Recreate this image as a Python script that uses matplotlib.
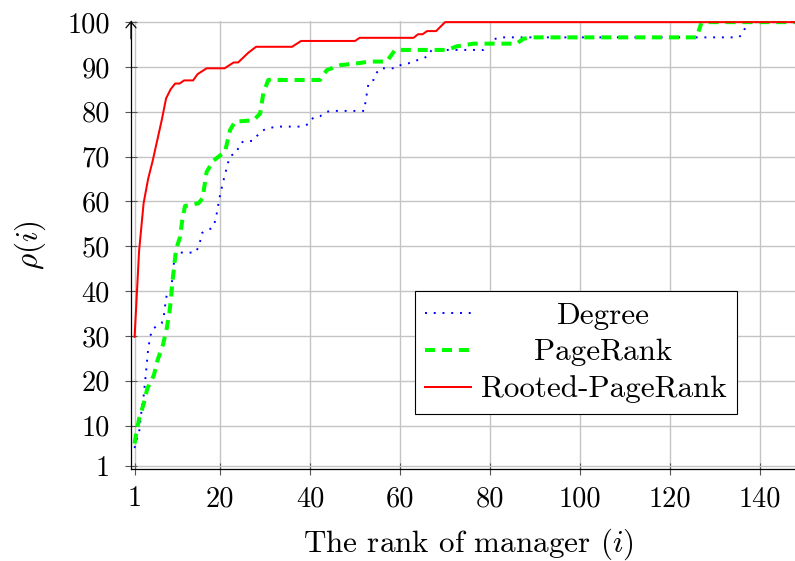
import matplotlib
matplotlib.use("Agg")
import matplotlib.pyplot as plt

plt.rcParams.update({
    'font.family': 'serif',
    'font.serif': ['cmr10', 'DejaVu Serif'],
    'mathtext.fontset': 'cm',
    'axes.unicode_minus': False,
    'axes.formatter.use_mathtext': True,
})

# values
degree_x = [1, 1.5, 2, 2.5, 3, 3.5, 4, 4.5, 5, 6, 7, 7.5, 8, 8.3, 9, 9.3, 9.6, 10,
            11, 14.5, 15.3, 16, 17.3, 18.4, 19, 20, 21, 22, 22.5, 23.5, 24, 24.6,
            25.6, 27.2, 28, 29, 30, 31.6, 33, 38.3, 39.7, 40.7, 42.2, 43.6, 45, 52,
            52.2, 53, 54.1, 54.7, 55.6, 59, 60.4, 61.8, 63.3, 64.8, 66.1, 67, 78.5,
            80.6, 82.2, 135.2, 136.1, 136.7, 137, 148]
degree_y = [5, 7, 8.5, 13, 16.5, 21.5, 27, 30, 31.5, 32.3, 32.8, 34.5, 38.5, 39.5,
            40, 42, 45, 48.5, 48.6, 48.6, 50, 53, 53.6, 54.2, 55.9, 61.5, 65.7,
            69.5, 70.3, 70.7, 71.8, 73.1, 73.5, 73.5, 74.4, 75.5, 76.1, 76.5, 76.7,
            76.7, 77.3, 78.7, 79, 80, 80.2, 80.2, 81.5, 86.5, 87.1, 88.6, 89.7,
            89.7, 90.6, 90.8, 91.3, 91.9, 92.3, 93.8, 93.8, 96.1, 96.6, 96.6, 97.3,
            98.8, 100, 100]

pagerank_x = [1, 1.3, 2, 3, 3.8, 5.3, 6.1, 7.3, 8.1, 8.7, 9.1, 9.4, 9.8, 10.2, 11.1,
              11.6, 12.2, 15.2, 16.1, 16.5, 17, 18.5, 21.1, 22.2, 23.3, 27.4, 28.9,
              29.6, 30.7, 42.2, 43.7, 46.7, 50.4, 53.3, 57, 58.9, 70.4, 72.6, 76.3,
              85.9, 87.4, 89.6, 125.9, 127, 148]
pagerank_y = [6, 7.9, 11.5, 14.8, 18.2, 21.3, 24.6, 28, 31.5, 34.9, 38.5, 42, 45.6,
              49.2, 52.1, 55.9, 59, 59.6, 60.7, 63.3, 66.6, 69.1, 71.1, 75.9, 77.8,
              78.1, 79.6, 84.1, 87.1, 87.1, 89.3, 90.4, 90.8, 91.2, 91.2, 93.8, 93.8,
              94.6, 95.2, 95.2, 96.3, 96.6, 96.6, 100, 100]

rooted_x = [1, 2, 3, 4, 5, 6, 7, 8, 9, 10, 11, 12, 14, 15, 17, 21, 23, 24, 26.3, 28,
            36, 38, 50, 51, 63, 64, 65, 66, 68, 70, 148]
rooted_y = [29.8, 49, 59.6, 65, 69, 73.5, 78, 83, 85, 86.3, 86.3, 87, 87, 88.4, 89.7,
            89.7, 91, 91, 93.2, 94.5, 94.5, 95.8, 95.8, 96.5, 96.5, 97.3, 97.3, 98,
            98, 100, 100]

x_ticks = [1, 20, 40, 60, 80, 100, 120, 140]
y_ticks = [1, 10, 20, 30, 40, 50, 60, 70, 80, 90, 100]

fig = plt.figure(figsize=(7.95, 5.61), dpi=100)
ax = fig.add_axes([131 / 795, 92 / 561, 664 / 795, 448 / 561])

ax.plot(degree_x, degree_y, color='blue', lw=1.4, linestyle=(0, (1, 3.5)),
        label='Degree')
ax.plot(pagerank_x, pagerank_y, color='#00ff00', lw=2.9, linestyle=(0, (2.5, 1.7)),
        label='PageRank')
ax.plot(rooted_x, rooted_y, color='red', lw=1.45, label='Rooted-PageRank')

ax.set_xlim(0.2, 147.76)
ax.set_ylim(0.33, 100.25)
ax.set_xticks(x_ticks)
ax.set_yticks(y_ticks)
ax.set_xticklabels([str(t) for t in x_ticks])
ax.set_yticklabels([str(t) for t in y_ticks])
ax.tick_params(direction='inout', length=8.6, width=0.8, color='#555555',
               labelsize=20.4)
ax.tick_params(axis='y', pad=10.8)
ax.tick_params(axis='x', pad=8)
ax.grid(True, color='#c4c4c4', lw=1.0)
ax.set_axisbelow(True)

for side in ['top', 'right']:
    ax.spines[side].set_visible(False)
for side in ['left', 'bottom']:
    ax.spines[side].set_linewidth(0.9)
    ax.spines[side].set_color('black')

ax.annotate('', xy=(0, 1.0), xytext=(0, 0.96), xycoords='axes fraction',
            arrowprops=dict(arrowstyle='->, head_length=0.35, head_width=0.3',
                            lw=0.9, color='black', shrinkA=0, shrinkB=0,
                            mutation_scale=12))

ax.set_xlabel('The rank of manager $(i)$', fontsize=22.4, va='center')
ax.xaxis.set_label_coords(0.5075, -0.168)
ax.set_ylabel(r'$\rho(i)$', fontsize=22.4, va='center')
ax.yaxis.set_label_coords(-0.152, 0.499)

leg = ax.legend(loc='lower right', bbox_to_anchor=(0.9127, 0.1228),
                borderaxespad=0, fontsize=22.4, handlelength=1.48,
                handletextpad=0.3, borderpad=0.34, labelspacing=0.29,
                fancybox=False, framealpha=1, edgecolor='black')
leg.get_frame().set_linewidth(0.8)

# centre the legend texts in their column
fig.canvas.draw()
texts = leg.get_texts()
widths = [t.get_window_extent().width for t in texts]
wmax = max(widths)
for t, w in zip(texts, widths):
    t.set_position(((wmax - w) / 2, 0))

fig.savefig('out.png', dpi=100)
